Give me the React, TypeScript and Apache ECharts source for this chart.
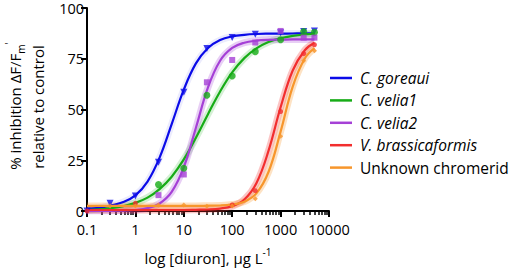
import React, { useEffect, useRef } from "react";
import * as echarts from "echarts";

// Fitted-curve sample concentrations (µg/L) and curve values
const curveConc = [0.1, 0.178, 0.316, 0.562, 1, 1.78, 3.16, 5.62, 10, 17.8, 31.6, 56.2, 100, 178, 316, 562, 1000, 1780, 3160, 5000];
const goreauiFit = [1.0, 1.5, 2.8, 4.4, 7.7, 14.5, 26.3, 42.8, 59.8, 72.7, 80.3, 84.2, 86.0, 86.8, 87.2, 87.35, 87.4, 87.45, 87.5, 87.5];
const velia1Fit = [0.5, 0.8, 1.4, 2.4, 4.0, 6.6, 10.8, 16.9, 25.4, 36.1, 47.7, 58.9, 68.3, 75.3, 80.1, 83.2, 85.1, 86.3, 87.0, 87.3];
const velia2Fit = [0, 0, 0.1, 0.2, 0.5, 1.4, 3.7, 9.4, 21.6, 41.0, 60.9, 74.0, 80.3, 82.9, 83.9, 84.3, 84.4, 84.5, 84.5, 84.5];
const brassFit = [0.5, 0.5, 0.5, 0.5, 0.5, 0.5, 0.5, 0.5, 0.5, 0.6, 0.75, 1.2, 2.4, 5.7, 13.7, 29.6, 51.1, 69.2, 79.2, 82.9];
const unknownFit = [2.5, 2.5, 2.5, 2.5, 2.5, 2.5, 2.5, 2.5, 2.5, 2.5, 2.6, 2.7, 3.2, 4.6, 8.7, 19.2, 39.1, 61.3, 75.1, 80.2];

// Measured points
const goreauiConc = [0.1, 0.3, 1, 3, 10, 30, 100, 300, 1000, 3000, 5000];
const goreauiVals = [0, 3.8, 7.4, 24, 58.5, 80, 85.5, 87.1, 87.8, 88.4, 88.7];
const velia1Conc = [3, 10, 30, 100, 300, 1000, 3000, 5000];
const velia1Vals = [13, 21, 57, 66.5, 78.5, 84.4, 88.4, 88];
const velia2Conc = [3, 10, 30, 100, 300, 1000, 3000, 5000];
const velia2Vals = [7.8, 18, 63.4, 74.4, 83, 88.7, 85.4, 85.4];
const brassConc = [0.1, 1, 100, 300, 1000, 3000, 5000];
const brassVals = [0, 3.8, 3, 10, 49, 77.6, 81.9];
const unknownConc = [0.3, 1, 3, 10, 30, 100, 300, 1000, 3000, 5000];
const unknownVals = [2.5, 2.5, 2.9, 2.9, 2.3, 2.5, 6, 36.8, 74, 79];

const names = ["C. goreaui", "C. velia1", "C. velia2", "V. brassicaformis", "Unknown chromerid"];
const colors = ["#0b0be8", "#17ac17", "#a540d6", "#f22e2e", "#f7962c"];
const bandOpacity = [0.08, 0.18, 0.25, 0.28, 0.28];
const symbols = ["triangle", "circle", "rect", "circle", "diamond"];
const symbolSizes = [7, 7, 6, 5, 5];

const xMajor = [0.1, 1, 10, 100, 1000, 10000];
const yTicks = [0, 25, 50, 75, 100];

const FONT = "'Open Sans', 'DejaVu Sans', sans-serif";

export default function App() {
  const ref = useRef<HTMLDivElement>(null);
  useEffect(() => {
    if (!ref.current) return;
    const chart = echarts.init(ref.current, null, { renderer: "svg" });
    const fits = [goreauiFit, velia1Fit, velia2Fit, brassFit, unknownFit];
    const pts = [
      [goreauiConc, goreauiVals],
      [velia1Conc, velia1Vals],
      [velia2Conc, velia2Vals],
      [brassConc, brassVals],
      [unknownConc, unknownVals],
    ];
    const minorTicks: number[] = [];
    for (let d = 0; d < xMajor.length - 1; d++) {
      for (let k = 2; k <= 9; k++) minorTicks.push(xMajor[d] * k);
    }
    const series: any[] = [];
    fits.forEach((f, i) => {
      series.push({
        type: "line",
        name: names[i] + " band",
        data: curveConc.map((c, j) => [c, f[j]]),
        smooth: 0.4,
        showSymbol: false,
        silent: true,
        lineStyle: { color: colors[i], width: 7, opacity: bandOpacity[i] },
        z: 1,
      });
    });
    fits.forEach((f, i) => {
      series.push({
        type: "line",
        name: names[i],
        data: curveConc.map((c, j) => [c, f[j]]),
        smooth: 0.4,
        showSymbol: false,
        lineStyle: { color: colors[i], width: 2.2 },
        itemStyle: { color: colors[i] },
        z: 3,
      });
    });
    pts.forEach((p, i) => {
      series.push({
        type: "scatter",
        name: names[i] + " pts",
        data: p[0].map((c, j) => [c, p[1][j]]),
        symbol: symbols[i],
        symbolRotate: i === 0 ? 180 : 0,
        symbolSize: symbolSizes[i],
        itemStyle: { color: colors[i] },
        z: 4,
      });
    });

    chart.setOption({
      animation: false,
      textStyle: { fontFamily: FONT },
      grid: { left: 87, right: 181, top: 8, bottom: 61 },
      xAxis: [
        {
          type: "log",
          logBase: 10,
          min: 0.1,
          max: 10000,
          position: "bottom",
          axisLine: { show: true, lineStyle: { color: "#000", width: 2 } },
          axisTick: { show: true, length: 6, lineStyle: { color: "#000", width: 2 } },
          axisLabel: {
            color: "#000",
            fontSize: 14.5,
            fontFamily: FONT,
            margin: 11,
            formatter: (v: number) => String(v),
          },
          splitLine: { show: false },
          minorTick: { show: false },
        },
        {
          type: "log",
          logBase: 10,
          min: 0.1,
          max: 10000,
          position: "bottom",
          axisLine: { show: false },
          axisLabel: { show: false },
          axisTick: {
            show: true,
            length: 4,
            customValues: minorTicks,
            lineStyle: { color: "#000", width: 1.5 },
          },
          splitLine: { show: false },
        },
      ],
      yAxis: {
        type: "value",
        min: 0,
        max: 100,
        interval: 25,
        axisLine: { show: true, lineStyle: { color: "#000", width: 2 } },
        axisTick: { show: true, length: 6, lineStyle: { color: "#000", width: 2 } },
        axisLabel: { color: "#000", fontSize: 14.5, fontFamily: FONT, margin: 3, lineHeight: 13 },
        splitLine: { show: false },
      },
      legend: {
        data: names,
        orient: "vertical",
        left: 325,
        top: 65,
        icon: "rect",
        itemWidth: 22,
        itemHeight: 2.5,
        itemGap: 6.4,
        textStyle: {
          fontSize: 15.5,
          fontFamily: FONT,
          color: "#000",
          lineHeight: 16,
          padding: [0, 0, 0, 3],
          rich: {
            i: { fontStyle: "italic", fontSize: 15.5, fontFamily: FONT, color: "#000" },
            n: { fontSize: 15.5, fontFamily: FONT, color: "#000" },
          },
        },
        formatter: (n: string) => (n === "Unknown chromerid" ? `{n|${n}}` : `{i|${n}}`),
      },
      graphic: [
        {
          type: "text",
          x: 15,
          y: 106,
          rotation: Math.PI / 2,
          style: {
            text: "{a|% inhibition ΔF/F}{s|m}{p|'}",
            align: "center",
            verticalAlign: "middle",
            fill: "#000",
            rich: {
              a: { fontSize: 15, fontFamily: FONT, fill: "#000", lineHeight: 22 },
              s: { fontSize: 10, fontFamily: FONT, fill: "#000", lineHeight: 10, verticalAlign: "bottom" },
              p: { fontSize: 10, fontFamily: FONT, fill: "#000", lineHeight: 10, verticalAlign: "top" },
            },
          },
        },
        {
          type: "text",
          x: 38,
          y: 107,
          rotation: Math.PI / 2,
          style: {
            text: "relative to control",
            align: "center",
            verticalAlign: "middle",
            fill: "#000",
            fontSize: 15,
            fontFamily: FONT,
          },
        },
        {
          type: "text",
          x: 208,
          y: 258,
          style: {
            text: "{a|log [diuron], μg L}{p|-1}",
            align: "center",
            verticalAlign: "middle",
            fill: "#000",
            rich: {
              a: { fontSize: 15, fontFamily: FONT, fill: "#000", lineHeight: 22 },
              p: { fontSize: 10, fontFamily: FONT, fill: "#000", lineHeight: 12, verticalAlign: "top" },
            },
          },
        },
      ],
      series,
    });
    return () => chart.dispose();
  }, []);
  return <div ref={ref} style={{ width: 510, height: 272, position: "absolute", left: 0, top: 0 }} />;
}
